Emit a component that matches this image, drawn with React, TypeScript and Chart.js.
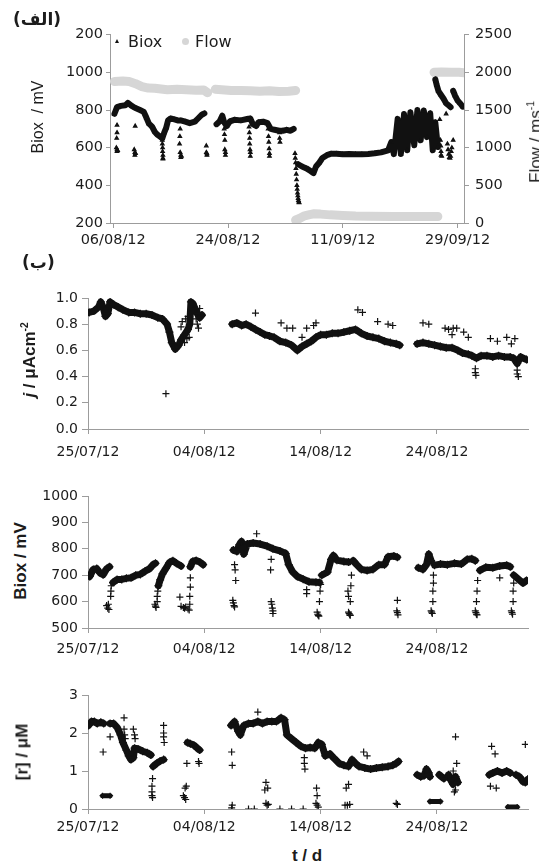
import React, { useEffect, useRef } from 'react';
import { Chart, registerables } from 'chart.js';
Chart.register(...registerables);

const FONT = "'DejaVu Sans', sans-serif";
const TFONT = "'Liberation Sans', Arial, sans-serif";
const AXIS = '#9c9c9c';
const TXT = '#1c1c1c';
const INK = '#111111';
const FLOWC = '#d6d6d6';

// ---------- Panel (الف) ----------
const aTickDays = [0, 18, 36, 54];
const aTickLabels = ['06/08/12', '24/08/12', '11/09/12', '29/09/12'];
const aLeftTicks = [200, 400, 600, 800, 1000, 1200];
const aLeftLabels = ['200', '400', '600', '800', '1000', '200'];
const aRightTicks = [0, 500, 1000, 1500, 2000, 2500];
const aRightLabels = ['0', '500', '1000', '1500', '2000', '2500'];

const aBioxDay = [
  0.2, 0.6, 1.2, 1.9, 2.3, 2.9, 3.4, 4.2, 4.8, 5.2, 5.6, 6.1, 6.5, 6.9, 7.3, 7.7, 8.0, 8.3, 8.6, 9.0, 9.6, 10.1, 10.6, 11.3, 12.0, 12.8, 13.3, 13.9, 14.3, null,
  16.2, 16.7, 17.1, 17.4, 17.8, 18.3, 19.0, 20.0, 21.0, 21.5, 21.9, 22.4, 22.8, 23.5, 24.2, 24.7, 25.3, 26.0, 26.6, 27.2, 27.8, 28.3, null,
  29.0, 29.6, 30.3, 31.0, 31.4, 31.8, 32.3, 32.8, 33.5, 34.2, 35.0, 36.0, 37.0, 38.0, 39.0, 40.0, 41.0, 42.0, 43.1, 43.6, 44.0, 44.6, 45.1, 45.6, 46.1, 46.6, 47.2, 47.7, 48.2, 48.7, 49.2, 49.7, 50.1, 50.5, 50.9, null,
  50.5, 50.7, 51.0, 51.4, 51.8, 52.2, 52.6, 52.9, null,
  53.3, 53.6, 54.0, 54.4, 54.8,
];
const aBioxMv = [
  780, 815, 822, 825, 838, 822, 812, 800, 790, 760, 728, 712, 685, 670, 660, 650, 680, 705, 745, 755, 750, 745, 745, 738, 730, 738, 755, 775, 782, null,
  725, 740, 770, 735, 715, 740, 748, 745, 752, 755, 725, 715, 735, 738, 730, 700, 695, 690, 690, 695, 690, 700, null,
  512, 500, 490, 475, 465, 500, 520, 545, 560, 568, 568, 565, 566, 565, 565, 567, 570, 575, 586, 630, 566, 753, 566, 779, 586, 788, 613, 800, 639, 797, 656, 783, 586, 735, 604, null,
  963, 935, 900, 880, 860, 835, 825, 815, null,
  902, 876, 850, 835, 818,
];
const aDipDay = [
  0.5, 0.6, 0.6, 0.7, 0.6, 0.6, 0.55,
  3.3, 3.4, 3.4, 3.5, 3.45,
  7.7, 7.7, 7.75, 7.75, 7.8, 7.8, 7.8, 7.7,
  10.4, 10.45, 10.5, 10.5, 10.6, 10.6, 10.7,
  14.6, 14.6, 14.7, 14.7,
  17.4, 17.45, 17.5, 17.5, 17.6, 17.6,
  21.3, 21.35, 21.4, 21.4, 21.45, 21.5, 21.5,
  24.3, 24.35, 24.4, 24.45, 24.5, 24.5,
  26.1, 26.1, 26.15,
  28.5, 28.55, 28.6, 28.65, 28.7, 28.75, 28.8, 28.85, 28.9, 28.95, 29.0, 29.05, 29.1, 29.15,
  51.2, 51.3, 51.35, 51.4, 51.4, 51.5,
  52.2, 52.4, 52.5, 52.6, 52.7, 52.8, 52.9, 53.0, 53.1, 53.3,
];
const aDipMv = [
  600, 590, 580, 585, 680, 720, 650,
  590, 575, 560, 570, 715,
  640, 620, 600, 580, 560, 545, 540, 660,
  620, 660, 700, 575, 560, 548, 555,
  610, 575, 560, 568,
  700, 670, 640, 590, 575, 560,
  710, 680, 650, 620, 590, 575, 555,
  700, 660, 630, 595, 570, 555,
  680, 650, 630,
  570, 545, 520, 490, 460, 430, 400, 380, 360, 345, 330, 320, 312, 308,
  750, 640, 610, 580, 560, 555,
  780, 620, 590, 565, 548, 545, 555, 580, 600, 640,
];
const aFlowDay = [
  0.2, 1.5, 2.5, 3.5, 4.5, 5.5, 6.5, 7.5, 8.5, 10.0, 11.5, 13.0, 14.2, 14.8, null,
  16.0, 17.0, 18.5, 20.0, 21.5, 23.0, 24.5, 26.0, 27.5, 28.6, null,
  28.6, 29.2, 30.0, 30.8, 31.5, 32.5, 34.0, 36.0, 38.0, 40.0, 44.0, 48.0, 50.9, null,
  50.3, 51.5, 53.0, 54.2, 55.0,
];
const aFlowVal = [
  1880, 1885, 1878, 1850, 1812, 1792, 1790, 1780, 1770, 1775, 1768, 1762, 1765, 1730, null,
  1775, 1770, 1760, 1760, 1755, 1750, 1755, 1745, 1750, 1760, null,
  40, 60, 95, 112, 122, 118, 108, 100, 92, 88, 86, 86, 86, null,
  2000, 2005, 2000, 2000, 1995,
];

// ---------- Panel (ب) shared axis ----------
const bTickDays = [0, 10, 20, 30];
const bTickLabels = ['25/07/12', '04/08/12', '14/08/12', '24/08/12'];

// j / µAcm-2
const jTicks = [0, 0.2, 0.4, 0.6, 0.8, 1.0];
const jTickLabels = ['0.0', '0.2', '0.4', '0.6', '0.8', '1.0'];
const jDay = [
  0.1, 0.5, 0.9, 1.1, 1.3, 1.5, 1.7, 1.9, 2.2, 2.6, 3.0, 3.5, 4.0, 4.5, 5.0, 5.5, 6.0, 6.4, 6.8, 7.0, 7.2, 7.5, 7.8, 8.0, 8.3, 8.6, 8.75, 8.85, 9.0, 9.2, 9.4, 9.6, 9.8, null,
  12.4, 12.8, 13.2, 13.6, 14.0, 14.4, 14.8, 15.2, 15.6, 16.0, 16.5, 17.0, 17.5, 18.0, 18.4, 18.8, 19.2, 19.6, 20.0, 20.5, 21.0, 21.5, 22.0, 22.5, 23.0, 23.5, 24.0, 24.5, 25.0, 25.5, 26.0, 26.5, 26.8, null,
  28.3, 28.8, 29.3, 29.8, 30.3, 30.8, 31.3, 31.8, 32.2, 32.7, 33.0, 33.4, 33.8, 34.3, 34.8, 35.3, 35.8, 36.3, 36.6, 36.9, 37.2, 37.7,
];
const jVal = [
  0.89, 0.9, 0.93, 0.97, 0.93, 0.86, 0.88, 0.97, 0.95, 0.93, 0.91, 0.89, 0.89, 0.88, 0.88, 0.87, 0.85, 0.84, 0.8, 0.74, 0.66, 0.61, 0.64, 0.68, 0.72, 0.76, 0.8, 0.97, 0.96, 0.92, 0.88, 0.85, 0.87, null,
  0.8, 0.81, 0.79, 0.8, 0.78, 0.76, 0.74, 0.72, 0.71, 0.7, 0.67, 0.66, 0.64, 0.6, 0.63, 0.65, 0.67, 0.7, 0.72, 0.72, 0.73, 0.73, 0.74, 0.75, 0.76, 0.73, 0.71, 0.7, 0.69, 0.67, 0.66, 0.65, 0.64, null,
  0.65, 0.66, 0.65, 0.64, 0.63, 0.62, 0.62, 0.6, 0.58, 0.57, 0.56, 0.54, 0.56, 0.56, 0.55, 0.56, 0.55, 0.55, 0.54, 0.5, 0.55, 0.53,
];
const jOutDay = [6.7, 8.0, 8.1, 8.3, 8.4, 8.5, 8.6, 8.7, 9.3, 9.4, 9.5, 9.6, 14.4, 16.6, 17.1, 17.6, 18.4, 18.8, 19.4, 19.6, 23.2, 23.6, 24.9, 25.8, 26.2, 28.8, 29.3, 30.7, 31.0, 31.3, 31.4, 31.7, 32.3, 32.7, 33.3, 33.3, 33.35, 34.6, 35.2, 36.0, 36.4, 36.7, 36.9, 36.9, 37.0];
const jOutVal = [0.27, 0.78, 0.82, 0.66, 0.84, 0.69, 0.86, 0.7, 0.84, 0.8, 0.77, 0.92, 0.885, 0.81, 0.77, 0.77, 0.7, 0.77, 0.79, 0.81, 0.91, 0.89, 0.82, 0.8, 0.79, 0.81, 0.8, 0.77, 0.76, 0.72, 0.77, 0.77, 0.74, 0.7, 0.46, 0.43, 0.41, 0.69, 0.67, 0.7, 0.65, 0.69, 0.45, 0.42, 0.4];

// Biox / mV
const bTicks = [500, 600, 700, 800, 900, 1000];
const bTickLabelsY = ['500', '600', '700', '800', '900', '1000'];
const bDay = [
  0.15, 0.45, 0.75, 1.05, 1.3, 1.6, 1.85, null,
  2.15, 2.5, 2.9, 3.3, 3.7, 4.1, 4.5, 4.9, 5.3, 5.6, 5.8, null,
  6.05, 6.2, 6.4, 6.7, 7.0, 7.3, 7.6, 8.0, null,
  8.8, 9.0, 9.3, 9.6, 9.9, null,
  12.5, 12.8, 13.0, 13.2, 13.4, 13.7, 14.2, 14.8, 15.4, 15.9, 16.5, 17.0, 17.25, 17.6, 18.0, 18.5, 19.0, 19.6, 19.9, null,
  20.1, 20.6, 20.9, 21.1, 21.4, 22.0, 22.4, null,
  22.8, 23.1, 23.5, 24.0, 24.5, 25.0, 25.5, 25.8, 26.3, 26.6, null,
  28.4, 28.8, 29.1, 29.3, 29.5, null,
  29.8, 30.3, 30.9, 31.5, 32.1, 32.6, 33.0, 33.3, null,
  33.7, 34.2, 34.8, 35.4, 36.0, 36.3, null,
  36.6, 37.0, 37.4, 37.7,
];
const bMv = [
  695, 722, 725, 708, 702, 724, 732, null,
  672, 684, 684, 688, 690, 700, 703, 715, 725, 740, 745, null,
  660, 682, 705, 726, 748, 755, 745, 735, null,
  732, 752, 756, 750, 740, null,
  795, 790, 815, 828, 780, 818, 822, 818, 810, 800, 792, 782, 740, 712, 695, 685, 675, 673, 672, null,
  700, 712, 760, 775, 757, 752, 750, null,
  755, 740, 722, 718, 722, 740, 740, 770, 773, 768, null,
  728, 722, 740, 780, 755, null,
  738, 742, 740, 745, 742, 760, 762, 755, null,
  718, 730, 728, 735, 738, 732, null,
  700, 685, 670, 680,
];
const bDipDay = [
  1.6, 1.7, 1.8, 1.75, 1.95, 1.97, 2.0,
  5.75, 5.8, 5.85, 5.95, 5.95, 6.0,
  7.9, 8.0, 8.2, 8.4, 8.6, 8.7, 8.3, 8.75, 8.75, 8.8, 8.8,
  12.45, 12.5, 12.55, 12.6, 12.7, 12.65, 12.6,
  14.5,
  15.75, 15.8, 15.85, 15.9, 15.9, 15.7, 15.75,
  18.8, 18.8,
  19.7, 19.75, 19.8, 19.85, 19.9, 19.95, 20.0,
  22.4, 22.45, 22.5, 22.55, 22.35, 22.4, 22.55, 22.6, 22.65,
  26.55, 26.6, 26.65, 26.6,
  29.5, 29.55, 29.6, 29.65, 29.65, 29.7, 29.7,
  33.3, 33.35, 33.4, 33.45, 33.4, 33.45, 33.5,
  35.4,
  36.4, 36.45, 36.5, 36.55, 36.55, 36.6,
];
const bDipMv = [
  585, 575, 570, 590, 620, 640, 660,
  590, 583, 578, 600, 620, 640,
  617, 582, 578, 580, 572, 568, 575, 590, 620, 655, 690,
  605, 595, 585, 580, 680, 720, 740,
  857,
  600, 590, 575, 565, 555, 720, 760,
  630, 645,
  560, 552, 548, 545, 600, 640, 665,
  560, 555, 550, 548, 640, 620, 600, 660, 700,
  565, 558, 550, 605,
  565, 560, 555, 600, 640, 670, 700,
  565, 558, 552, 550, 600, 640, 680,
  690,
  565, 558, 552, 600, 640, 670,
];

// [r] / µM
const rTicks = [0, 1, 2, 3];
const rTickLabels = ['0', '1', '2', '3'];
const rDay = [
  0.05, 0.3, 0.55, 0.8, 1.1, 1.35, null,
  1.9, 2.2, 2.5, 2.8, 3.0, 3.3, 3.5, 3.7, 3.9, 4.0, 4.3, 4.7, 5.1, 5.4, null,
  5.6, 5.9, 6.2, 6.5, null,
  8.55, 8.8, 9.1, 9.4, 9.6, null,
  12.3, 12.6, 12.9, 13.1, 13.4, 13.8, 14.2, 14.6, 15.0, 15.4, 15.8, 16.2, 16.6, 16.9, 17.1, 17.5, 17.9, 18.3, 18.7, 19.1, 19.5, 19.8, 20.1, 20.4, 20.8, 21.2, 21.6, 22.0, 22.4, 22.7, 23.0, 23.3, 23.8, 24.3, 24.8, 25.3, 25.8, 26.2, 26.5, 26.7, null,
  28.3, 28.6, 28.9, 29.1, 29.3, 29.4, null,
  30.2, 30.4, 30.6, null,
  31.0, 31.2, 31.4, 31.6, 31.8, null,
  34.5, 34.8, 35.2, 35.6, 36.0, 36.3, null,
  36.8, 37.1, 37.4, 37.6, 37.8,
];
const rVal = [
  2.2, 2.3, 2.3, 2.25, 2.28, 2.25, null,
  2.25, 2.25, 2.15, 1.95, 1.75, 1.55, 1.4, 1.3, 1.35, 1.6, 1.58, 1.52, 1.48, 1.42, null,
  1.12, 1.2, 1.26, 1.3, null,
  1.75, 1.72, 1.68, 1.6, 1.55, null,
  2.2, 2.3, 2.05, 1.95, 2.2, 2.25, 2.25, 2.3, 2.25, 2.3, 2.3, 2.3, 2.4, 2.35, 1.95, 1.85, 1.75, 1.65, 1.6, 1.62, 1.6, 1.75, 1.7, 1.4, 1.45, 1.32, 1.2, 1.15, 1.12, 1.3, 1.2, 1.12, 1.08, 1.05, 1.08, 1.1, 1.12, 1.15, 1.2, 1.25, null,
  0.9, 0.85, 0.88, 1.05, 0.95, 0.85, null,
  0.9, 0.85, 0.8, null,
  0.9, 0.75, 0.65, 0.85, 0.7, null,
  0.9, 0.95, 1.0, 0.95, 1.0, 0.95, null,
  0.9, 0.85, 0.72, 0.7, 0.78,
];
const rLowDay = [1.25, 1.9, null, 29.4, 30.3, null, 36.1, 36.9];
const rLowVal = [0.35, 0.35, null, 0.2, 0.2, null, 0.05, 0.05];
const rOutDay = [1.3, 1.9, 3.1, 3.1, 3.15, 3.2, 3.9, 4.0, 4.05, 6.5, 6.5, 6.5, 6.55, 5.5, 5.5, 5.55, 5.5, 5.55, 8.2, 8.3, 8.4, 8.35, 8.45, 8.5, 9.5, 9.55, 12.35, 12.4, 12.4, 12.35, 13.8, 14.3, 14.6, 15.3, 15.4, 15.5, 15.3, 15.45, 15.2, 16.5, 17.5, 18.5, 18.6, 18.6, 18.65, 19.6, 19.7, 19.8, 19.65, 19.7, 22.1, 22.3, 22.5, 22.2, 22.4, 23.7, 24.0, 26.5, 26.6, 31.6, 31.7, 31.5, 31.6, 31.4, 34.7, 35.0, 34.6, 35.1, 37.6];
const rOutVal = [1.5, 1.9, 2.4, 2.1, 1.95, 1.85, 2.1, 1.95, 1.85, 2.2, 2.0, 1.9, 1.75, 0.45, 0.35, 0.3, 0.6, 0.8, 0.35, 0.3, 0.25, 0.55, 0.6, 1.2, 1.25, 1.2, 1.5, 1.15, 0.1, 0.03, 0, 0, 2.55, 0.15, 0.1, 0.12, 0.7, 0.55, 0.5, 0, 0, 0, 1.35, 1.2, 1.05, 0.15, 0.1, 0.05, 0.55, 0.35, 0.1, 0.1, 0.12, 0.55, 0.65, 1.5, 1.4, 0.15, 0.12, 1.9, 1.2, 0.45, 0.5, 1.0, 1.65, 1.45, 0.6, 0.55, 1.7];

// ---------- helpers ----------
function pts(xs: (number | null)[], ys: (number | null)[]) {
  let lastX = 0;
  return xs.map((x, i) => {
    const y = ys[i];
    if (x === null || y === null) return { x: lastX, y: null };
    lastX = x;
    return { x, y };
  });
}

function xAxis(min: number, max: number, vals: number[], labels: string[], height: number, pad: number, size: number) {
  return {
    type: 'linear',
    position: 'bottom',
    min,
    max,
    afterBuildTicks: (s: any) => { s.ticks = vals.map((v) => ({ value: v })); },
    afterFit: (s: any) => { s.height = height; },
    ticks: {
      autoSkip: false,
      maxRotation: 0,
      minRotation: 0,
      padding: pad,
      color: TXT,
      font: { family: FONT, size },
      callback: (_v: any, i: number) => labels[i],
    },
    grid: { drawOnChartArea: false, drawTicks: true, tickLength: 5, color: AXIS },
    border: { color: AXIS, width: 1 },
  };
}

function yAxis(pos: 'left' | 'right', min: number, max: number, vals: number[], labels: string[], width: number, tick: number, pad: number, size: number) {
  return {
    type: 'linear',
    position: pos,
    min,
    max,
    afterBuildTicks: (s: any) => { s.ticks = vals.map((v) => ({ value: v })); },
    afterFit: (s: any) => { s.width = width; },
    ticks: {
      padding: pad,
      color: TXT,
      font: { family: FONT, size },
      callback: (_v: any, i: number) => labels[i],
    },
    grid: { drawOnChartArea: false, drawTicks: true, tickLength: tick, color: AXIS },
    border: { color: AXIS, width: 1 },
  };
}

function baseOptions(padding: any, scales: any) {
  return {
    animation: false,
    responsive: false,
    devicePixelRatio: 1,
    events: [],
    layout: { padding },
    plugins: { legend: { display: false }, tooltip: { enabled: false } },
    scales,
  };
}

function bandSet(data: any, width: number, radius: number, style: string, yAxisID = 'y') {
  return {
    data,
    yAxisID,
    showLine: true,
    spanGaps: false,
    borderColor: INK,
    backgroundColor: INK,
    borderWidth: width,
    borderCapStyle: 'round',
    borderJoinStyle: 'round',
    pointStyle: style,
    pointRadius: radius,
    pointBorderWidth: 1.2,
    pointBorderColor: INK,
    pointBackgroundColor: INK,
  };
}

function dotSet(data: any, radius: number, style: string, yAxisID = 'y') {
  return {
    data,
    yAxisID,
    showLine: false,
    borderColor: INK,
    backgroundColor: INK,
    pointStyle: style,
    pointRadius: radius,
    pointBorderWidth: 1.2,
  };
}

const boxes = {
  a: { left: 40, top: 20, w: 499, h: 233 },
  j: { left: 30, top: 285, w: 509, h: 175 },
  b: { left: 30, top: 483, w: 509, h: 177 },
  r: { left: 30, top: 682, w: 509, h: 155 },
};

function configs() {
  const bx = (h: number, pad: number) => xAxis(0, 37.83, bTickDays, bTickLabels, h, pad, 14);
  return {
    a: {
      type: 'scatter',
      data: {
        datasets: [
          bandSet(pts(aBioxDay, aBioxMv), 6, 2, 'triangle'),
          dotSet(pts(aDipDay, aDipMv), 2, 'triangle'),
          {
            data: pts(aFlowDay, aFlowVal),
            yAxisID: 'y2',
            showLine: true,
            spanGaps: false,
            borderColor: FLOWC,
            borderWidth: 9,
            borderCapStyle: 'round',
            borderJoinStyle: 'round',
            pointRadius: 0,
          },
        ],
      },
      options: baseOptions({ top: 12, left: 0, right: 0, bottom: 0 }, {
        x: xAxis(-0.5, 55, aTickDays, aTickLabels, 30, 4, 14.5),
        y: yAxis('left', 200, 1200, aLeftTicks, aLeftLabels, 70, 4, 3, 14.5),
        y2: yAxis('right', 0, 2500, aRightTicks, aRightLabels, 75, 5, 6, 14.5),
      }),
    },
    j: {
      type: 'scatter',
      data: {
        datasets: [
          bandSet(pts(jDay, jVal), 7, 4, 'cross'),
          dotSet(pts(jOutDay, jOutVal), 3.5, 'cross'),
        ],
      },
      options: baseOptions({ top: 13, left: 0, right: 11, bottom: 0 }, {
        x: bx(31, 10),
        y: yAxis('left', 0, 1, jTicks, jTickLabels, 58, 6, 4, 14),
      }),
    },
    b: {
      type: 'scatter',
      data: {
        datasets: [
          bandSet(pts(bDay, bMv), 7, 4, 'cross'),
          dotSet(pts(bDipDay, bDipMv), 3.5, 'cross'),
        ],
      },
      options: baseOptions({ top: 13, left: 0, right: 11, bottom: 0 }, {
        x: bx(32, 8),
        y: yAxis('left', 500, 1000, bTicks, bTickLabelsY, 58, 6, 4, 14),
      }),
    },
    r: {
      type: 'scatter',
      data: {
        datasets: [
          bandSet(pts(rDay, rVal), 7, 4, 'cross'),
          bandSet(pts(rLowDay, rLowVal), 5, 3, 'cross'),
          dotSet(pts(rOutDay, rOutVal), 3.5, 'cross'),
        ],
      },
      options: baseOptions({ top: 13, left: 0, right: 11, bottom: 0 }, {
        x: bx(28, 5),
        y: yAxis('left', 0, 3, rTicks, rTickLabels, 58, 6, 4, 14),
      }),
    },
  };
}

const rot = (cx: number, cy: number, extra: any = {}): React.CSSProperties => ({
  position: 'absolute',
  left: cx,
  top: cy,
  transform: 'translate(-50%, -50%) rotate(-90deg)',
  whiteSpace: 'pre',
  lineHeight: 1,
  color: TXT,
  fontFamily: TFONT,
  ...extra,
});

export default function App() {
  const ra = useRef<HTMLCanvasElement>(null);
  const rj = useRef<HTMLCanvasElement>(null);
  const rb = useRef<HTMLCanvasElement>(null);
  const rr = useRef<HTMLCanvasElement>(null);

  useEffect(() => {
    const c = configs() as any;
    const charts = [
      new Chart(ra.current as HTMLCanvasElement, c.a),
      new Chart(rj.current as HTMLCanvasElement, c.j),
      new Chart(rb.current as HTMLCanvasElement, c.b),
      new Chart(rr.current as HTMLCanvasElement, c.r),
    ];
    return () => charts.forEach((ch) => ch.destroy());
  }, []);

  const cv = (k: keyof typeof boxes, ref: any) => {
    const b = boxes[k];
    return (
      <canvas
        ref={ref}
        width={b.w}
        height={b.h}
        style={{ position: 'absolute', left: b.left, top: b.top, width: b.w, height: b.h }}
      />
    );
  };

  return (
    <div style={{ position: 'absolute', left: 0, top: 0, width: 539, height: 863, overflow: 'hidden', background: '#fff' }}>
      {cv('a', ra)}
      {cv('j', rj)}
      {cv('b', rb)}
      {cv('r', rr)}

      <div style={{ position: 'absolute', left: 13, top: 9, fontFamily: FONT, fontWeight: 'bold', fontSize: 17, color: TXT, lineHeight: 1.2 }}>(الف)</div>
      <div style={{ position: 'absolute', left: 22, top: 252, fontFamily: FONT, fontWeight: 'bold', fontSize: 17, color: TXT, lineHeight: 1.2 }}>(ب)</div>

      {/* legend of panel (الف) */}
      <div style={{ position: 'absolute', left: 115, top: 39, width: 0, height: 0, borderLeft: '2.5px solid transparent', borderRight: '2.5px solid transparent', borderBottom: '4px solid #111' }} />
      <div style={{ position: 'absolute', left: 128, top: 33, fontFamily: FONT, fontSize: 16, color: TXT, lineHeight: 1.1 }}>Biox</div>
      <div style={{ position: 'absolute', left: 182, top: 38, width: 7, height: 7, borderRadius: '50%', background: FLOWC }} />
      <div style={{ position: 'absolute', left: 195, top: 33, fontFamily: FONT, fontSize: 16, color: TXT, lineHeight: 1.1 }}>Flow</div>

      <div style={rot(38, 117, { fontSize: 16 })}>{'Biox  / mV'}</div>
      <div style={rot(535, 142, { fontSize: 17 })}>
        {'Flow / ms'}<sup style={{ fontSize: '0.6em' }}>-1</sup>
      </div>

      <div style={rot(29, 360, { fontSize: 17, fontWeight: 'bold' })}>
        <i>j</i>{' / μAcm'}<sup style={{ fontSize: '0.6em' }}>-2</sup>
      </div>
      <div style={rot(20, 561, { fontSize: 17, fontWeight: 'bold' })}>{'Biox / mV'}</div>
      <div style={rot(22, 752, { fontSize: 17, fontWeight: 'bold' })}>{'[r] / μM'}</div>

      <div style={{ position: 'absolute', left: 307, top: 855, transform: 'translate(-50%, -50%)', fontFamily: TFONT, fontWeight: 'bold', fontSize: 17, color: TXT, lineHeight: 1 }}>t / d</div>
    </div>
  );
}
